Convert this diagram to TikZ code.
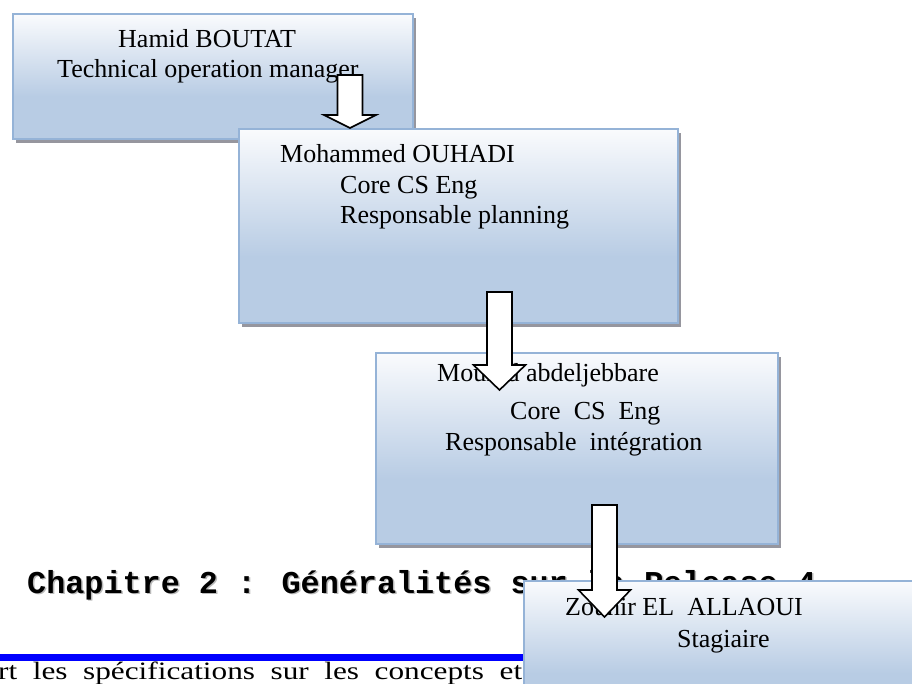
\documentclass[tikz,border=0pt]{standalone}
\usepackage{fontspec}
\setmainfont{Liberation Serif}
\newfontfamily\titlefont{Liberation Mono}
\newfontfamily\widefont[FakeStretch=1.25]{Liberation Serif}
\usetikzlibrary{calc,shadows}
\definecolor{boxline}{RGB}{149,179,215}
\definecolor{boxblue}{RGB}{184,204,228}
\definecolor{boxwhite}{RGB}{250,251,253}
\definecolor{shadowgray}{RGB}{150,150,158}
\pgfdeclareverticalshading{boxshade}{100bp}{color(0bp)=(boxblue); color(25bp)=(boxblue); color(42bp)=(boxblue); color(75bp)=(boxwhite); color(100bp)=(boxwhite)}
\tikzset{
  orgbox/.style={draw=boxline, line width=1.8pt, shading=boxshade, anchor=north west, inner sep=0pt,
    drop shadow={shadow xshift=3.5pt, shadow yshift=-4pt, fill=shadowgray, opacity=1}},
  boxtext/.style={font=\fontsize{26}{30}\selectfont, inner sep=0pt, anchor=base west},
  titletext/.style={font=\titlefont\bfseries\fontsize{31.8}{36}\selectfont, inner sep=0pt, anchor=base west},
  downarrow/.style={draw=black, line width=1.6pt, fill=white, line join=miter}
}
% block arrow: start, tip, head length
\newcommand\blockarrow[3]{%
  \draw[downarrow] let \p1=(#1), \p2=(#2) in
    (\x1-12.5pt,\y1) -- (\x1+12.5pt,\y1) -- (\x1+12.5pt,\y2+#3pt) -- (\x1+26pt,\y2+#3pt)
    -- (\x2,\y2) -- (\x1-26pt,\y2+#3pt) -- (\x1-12.5pt,\y2+#3pt) -- cycle;
}
\begin{document}
\begin{tikzpicture}[x=1pt,y=-1pt]
\useasboundingbox (0,0) rectangle (912,684);
\clip (0,0) rectangle (912,684);

\node[orgbox, minimum width=400pt, minimum height=125pt] (hamid) at (12,13) {};
\node[orgbox, minimum width=439pt, minimum height=194pt] (ouhadi) at (238,128) {};
\node[orgbox, minimum width=402pt, minimum height=191pt] (mourad) at (375,352) {};

\foreach \x/\y/\t [count=\i] in {118/48/Hamid BOUTAT, 57/78/Technical operation manager,
    280/163/Mohammed OUHADI, 340/194/Core CS Eng, 340/224/Responsable planning,
    437/381/Mourad abdeljebbare, 510/419/Core~~CS~~Eng, 445/450/Responsable~~intégration}
  \node[boxtext] (line\i) at (\x,\y) {\t};

% chapter header and page text
\node[titletext, text=gray!55] (titleshade) at (28.5,594.5) {Chapitre 2 : Généralités sur la Release 4};
\node[titletext] (title) at (27,593) {Chapitre 2 : Généralités sur la Release 4};
\fill[blue] (0,654) rectangle (560,661);
\node[inner sep=0pt, anchor=base west, font=\widefont\fontsize{25}{30}\selectfont] (intro) at (-2,679)
  {\makebox[524pt][s]{rt les spécifications sur les concepts et}};

\node[orgbox, minimum width=420pt, minimum height=140pt] (zouhir) at (523,580) {};
\node[boxtext] (line9) at (565,615) {Zouhir EL~~ALLAOUI};
\node[boxtext] (line10) at (677,647) {Stagiaire};

\coordinate (s1) at (350,75);    \coordinate (t1) at (350,128);
\coordinate (s2) at (499.5,292); \coordinate (t2) at (499.5,390);
\coordinate (s3) at (604.5,505); \coordinate (t3) at (604.5,617);
\foreach \i/\h in {1/13,2/25,3/27}
  \blockarrow{s\i}{t\i}{\h};
\end{tikzpicture}
\end{document}
